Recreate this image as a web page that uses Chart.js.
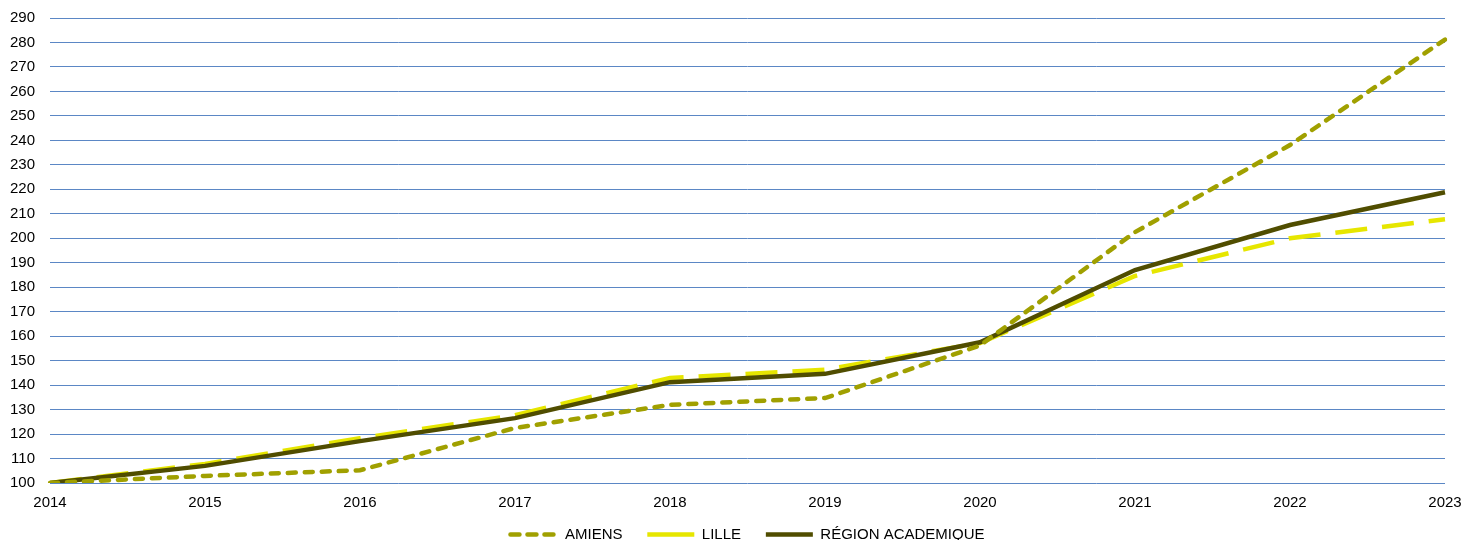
<!DOCTYPE html>
<html>
<head>
<meta charset="utf-8">
<script src="https://cdn.jsdelivr.net/npm/chart.js@4.4.1/dist/chart.umd.min.js"></script>
<style>
  html, body { margin: 0; padding: 0; background: #fff; }
  .wrap { position: relative; width: 1463px; height: 540px; }
</style>
</head>
<body>
<div class="wrap"><canvas id="chart"></canvas></div>
<script>
// ── data ──
const years = ['2014', '2015', '2016', '2017', '2018', '2019', '2020', '2021', '2022', '2023'];
const amiens = [100, 102.9, 105.2, 122.5, 131.9, 134.7, 156.2, 202.5, 238.1, 281.2];
const lille = [100, 107.8, 118.3, 127.7, 142.9, 146.3, 157.2, 184.6, 200.0, 207.8];
const region = [100, 107.0, 117.1, 126.5, 141.2, 144.6, 157.5, 187.0, 205.4, 218.8];
const yMin = 100, yMax = 290, yStep = 10;

const font = { family: '"Liberation Sans", Arial, sans-serif', size: 15 };

new Chart(document.getElementById('chart'), {
  type: 'line',
  data: {
    labels: years,
    datasets: [
      {
        label: 'AMIENS',
        data: amiens,
        borderColor: '#a0a000',
        backgroundColor: '#a0a000',
        borderWidth: 4.5,
        borderDash: [8, 9],
        borderCapStyle: 'round',
        pointRadius: 0,
        tension: 0,
        order: 0
      },
      {
        label: 'LILLE',
        data: lille,
        borderColor: '#e6e600',
        backgroundColor: '#e6e600',
        borderWidth: 4.5,
        borderDash: [32, 15],
        borderCapStyle: 'butt',
        pointRadius: 0,
        tension: 0,
        order: 2
      },
      {
        label: 'RÉGION ACADEMIQUE',
        data: region,
        borderColor: '#504d00',
        backgroundColor: '#504d00',
        borderWidth: 4.5,
        pointRadius: 0,
        tension: 0,
        order: 1
      }
    ]
  },
  options: {
    responsive: true,
    maintainAspectRatio: false,
    animation: false,
    layout: { padding: { top: 18, right: 18, left: 0, bottom: -12 } },
    plugins: {
      tooltip: { enabled: false },
      legend: {
        position: 'bottom',
        fullSize: false, // centred under the plot area, as in the reference
        labels: {
          color: '#000',
          font: font,
          boxWidth: 47,
          boxHeight: 0,
          padding: 4,
          sort: (a, b) => a.datasetIndex - b.datasetIndex,
          // trailing spaces widen the gap between legend items
          generateLabels: (chart) => Chart.defaults.plugins.legend.labels.generateLabels(chart)
            .map((item) => Object.assign(item, { text: item.text + (item.datasetIndex < 2 ? '     ' : '') }))
        }
      }
    },
    scales: {
      x: {
        offset: false,
        afterFit: (s) => { s.paddingLeft = 0; s.paddingRight = 0; },
        grid: { display: false, drawTicks: false },
        border: { display: false },
        ticks: { color: '#000', font: font, padding: 11, maxRotation: 0, autoSkip: false }
      },
      y: {
        min: yMin,
        max: yMax,
        afterFit: (s) => { s.width = 50; s.paddingTop = 0; s.paddingBottom = 0; },
        grid: { color: '#5b87c5', lineWidth: 1, drawTicks: false },
        border: { display: false },
        ticks: { stepSize: yStep, color: '#000', font: font, padding: 15 }
      }
    }
  }
});
</script>
</body>
</html>
